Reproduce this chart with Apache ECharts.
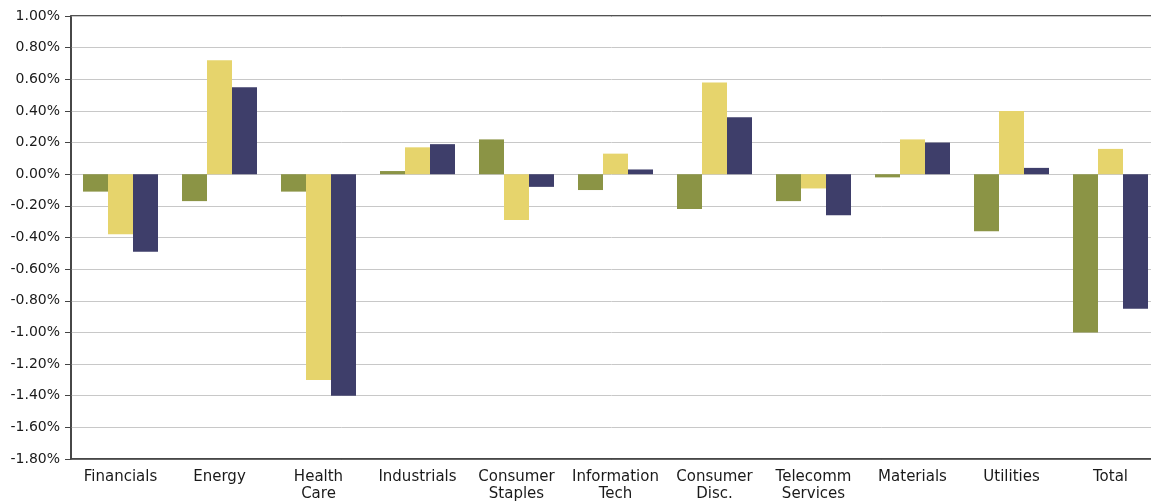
<!DOCTYPE html>
<html>
<head>
<meta charset="utf-8">
<script src="https://cdn.jsdelivr.net/npm/echarts@6/dist/echarts.min.js"></script>
<style>
html,body{margin:0;padding:0;background:#fff;}
#chart{width:1151px;height:504px;}
</style>
</head>
<body>
<div id="chart"></div>
<script>
const categories = ['Financials','Energy','Health\nCare','Industrials','Consumer\nStaples','Information\nTech','Consumer\nDisc.','Telecomm\nServices','Materials','Utilities','Total'];
const seriesA = [-0.11, -0.17, -0.11, 0.02, 0.22, -0.10, -0.22, -0.17, -0.02, -0.36, -1.00];
const seriesB = [-0.38, 0.72, -1.30, 0.17, -0.29, 0.13, 0.58, -0.09, 0.22, 0.40, 0.16];
const seriesC = [-0.49, 0.55, -1.40, 0.19, -0.08, 0.03, 0.36, -0.26, 0.20, 0.04, -0.85];
const yMin = -1.8, yMax = 1.0, yStep = 0.2;

const chart = echarts.init(document.getElementById('chart'), null, {renderer:'canvas'});
const barStyle = (c) => ({ type:'bar', barWidth:25, barGap:'0%', itemStyle:{color:c}, silent:true });
chart.setOption({
  animation:false,
  backgroundColor:'#ffffff',
  grid:{left:71, top:16, width:1089, height:443, outerBoundsMode:'none', containLabel:false,
        show:true, borderColor:'#1a1a1a', borderWidth:1.5, backgroundColor:'transparent'},
  xAxis:{
    type:'category', data:categories,
    axisLine:{onZero:false, lineStyle:{color:'#444', width:1.5}},
    axisTick:{alignWithLabel:true, length:5, lineStyle:{color:'#444'}},
    axisLabel:{fontFamily:'DejaVu Sans', fontSize:15, color:'#1a1a1a', margin:10, lineHeight:17, interval:0}
  },
  yAxis:{
    type:'value', min:yMin, max:yMax, interval:yStep,
    axisLine:{show:true, lineStyle:{color:'#444', width:1.5}},
    axisTick:{show:true, length:6, lineStyle:{color:'#444'}},
    splitLine:{lineStyle:{color:'#c8c8c8', width:1}},
    axisLabel:{fontFamily:'DejaVu Sans', fontSize:14, color:'#1a1a1a', margin:11,
      formatter:(v)=>v.toFixed(2)+'%'}
  },
  series:[
    Object.assign(barStyle('#8b9445'), {name:'A', data:seriesA}),
    Object.assign(barStyle('#e6d46c'), {name:'B', data:seriesB}),
    Object.assign(barStyle('#3e3e6a'), {name:'C', data:seriesC})
  ]
});
</script>
</body>
</html>
